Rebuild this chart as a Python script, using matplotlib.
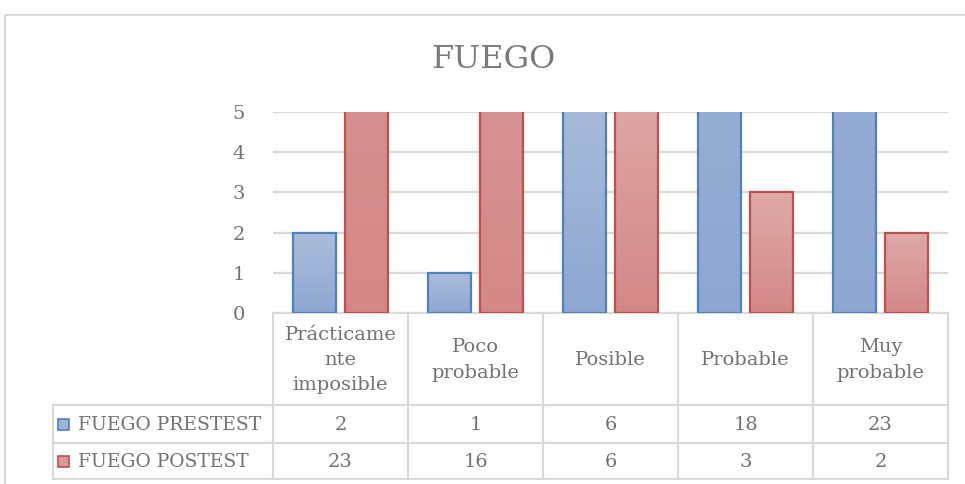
import numpy as np
import matplotlib
matplotlib.use("Agg")
import matplotlib.pyplot as plt
from matplotlib.patches import Rectangle
from matplotlib.colors import LinearSegmentedColormap

# Data
title = "FUEGO"
categories = ["Prácticame\nnte\nimposible", "Poco\nprobable", "Posible", "Probable", "Muy\nprobable"]
series_names = ["FUEGO PRESTEST", "FUEGO POSTEST"]
prestest = [2, 1, 6, 18, 23]
postest = [23, 16, 6, 3, 2]
y_ticks = [0, 1, 2, 3, 4, 5]

W, H = 965, 484
FONT = "DejaVu Serif"
TXT = "#727272"
GRID = "#d9d9d9"

fig = plt.figure(figsize=(W / 100, H / 100), dpi=100)

# Full-figure overlay in pixel coordinates for the frame, title and data table
ov = fig.add_axes([0, 0, 1, 1])
ov.set_xlim(0, W)
ov.set_ylim(H, 0)
ov.axis("off")

# Chart frame
ov.add_patch(Rectangle((4.5, 14.5), 1200, 600, fill=False, ec=GRID, lw=1.5, clip_on=False))
ov.text(493, 60, title, ha="center", va="center", fontfamily=FONT, fontsize=23, color="#7a7a7a")

# Plot area in pixels
px0, px1 = 273, 948
py_top, py_bot = 112, 313
ax = fig.add_axes([px0 / W, 1 - py_bot / H, (px1 - px0) / W, (py_bot - py_top) / H])
ax.set_facecolor("none")
for s in ax.spines.values():
    s.set_visible(False)
ax.set_xticks([])
ax.set_yticks(y_ticks)
ax.tick_params(axis="y", length=0, pad=20, labelsize=14, labelcolor=TXT)
for lbl in ax.get_yticklabels():
    lbl.set_fontfamily(FONT)
for t in y_ticks:
    ax.axhline(t, color=GRID, lw=1.6, zorder=0)

blue_cmap = LinearSegmentedColormap.from_list("b", ["#8ea7d2", "#abbdda"])
red_cmap = LinearSegmentedColormap.from_list("r", ["#d38887", "#dfaaa9"])
grad = np.linspace(0, 1, 256).reshape(-1, 1)

width = 0.32
offsets = [-0.19, 0.19]
styles = [("#4f81bd", blue_cmap), ("#c0504d", red_cmap)]
for vals, off, (ec, cmap) in zip([prestest, postest], offsets, styles):
    x = np.arange(len(categories)) + 0.5 + off
    bars = ax.bar(x, vals, width=width, color="none", edgecolor=ec, linewidth=1.6, zorder=3)
    for b, v in zip(bars, vals):
        im = ax.imshow(grad, cmap=cmap, origin="lower", aspect="auto",
                       extent=(b.get_x(), b.get_x() + b.get_width(), 0, v), zorder=2)
        im.set_clip_path(b)
        im.set_clip_box(ax.bbox)
ax.set_xlim(0, len(categories))
ax.set_ylim(0, 5)

# Data table below the plot area
n = len(categories)
cw = (px1 - px0) / n
leg_x = 53
row_tops = [py_bot, 405, 443, 479]
lw = 1.5
ov.plot([px0, px1], [py_bot, py_bot], color=GRID, lw=lw)
for yy in row_tops[1:]:
    ov.plot([leg_x, px1], [yy, yy], color=GRID, lw=lw)
for i in range(n + 1):
    xx = px0 + i * cw
    ov.plot([xx, xx], [py_bot, row_tops[-1]], color=GRID, lw=lw)
ov.plot([leg_x, leg_x], [row_tops[1], row_tops[-1]], color=GRID, lw=lw)

for i, c in enumerate(categories):
    ov.text(px0 + (i + 0.5) * cw, (row_tops[0] + row_tops[1]) / 2 + 1, c,
            ha="center", va="center", fontfamily=FONT, fontsize=14, color=TXT,
            linespacing=1.5)

fills = ["#9db3d8", "#d99a99"]
for r, (name, vals) in enumerate(zip(series_names, [prestest, postest])):
    yc = (row_tops[r + 1] + row_tops[r + 2]) / 2
    ov.add_patch(Rectangle((57.5, yc - 5.5), 11, 11, fc=fills[r], ec=styles[r][0], lw=1.2))
    ov.text(78, yc + 1, name, ha="left", va="center", fontfamily=FONT,
            fontsize=13.5, color=TXT)
    for i, v in enumerate(vals):
        ov.text(px0 + (i + 0.5) * cw, yc + 1, str(v), ha="center", va="center",
                fontfamily=FONT, fontsize=14, color=TXT)

fig.savefig("out.png", dpi=100)
